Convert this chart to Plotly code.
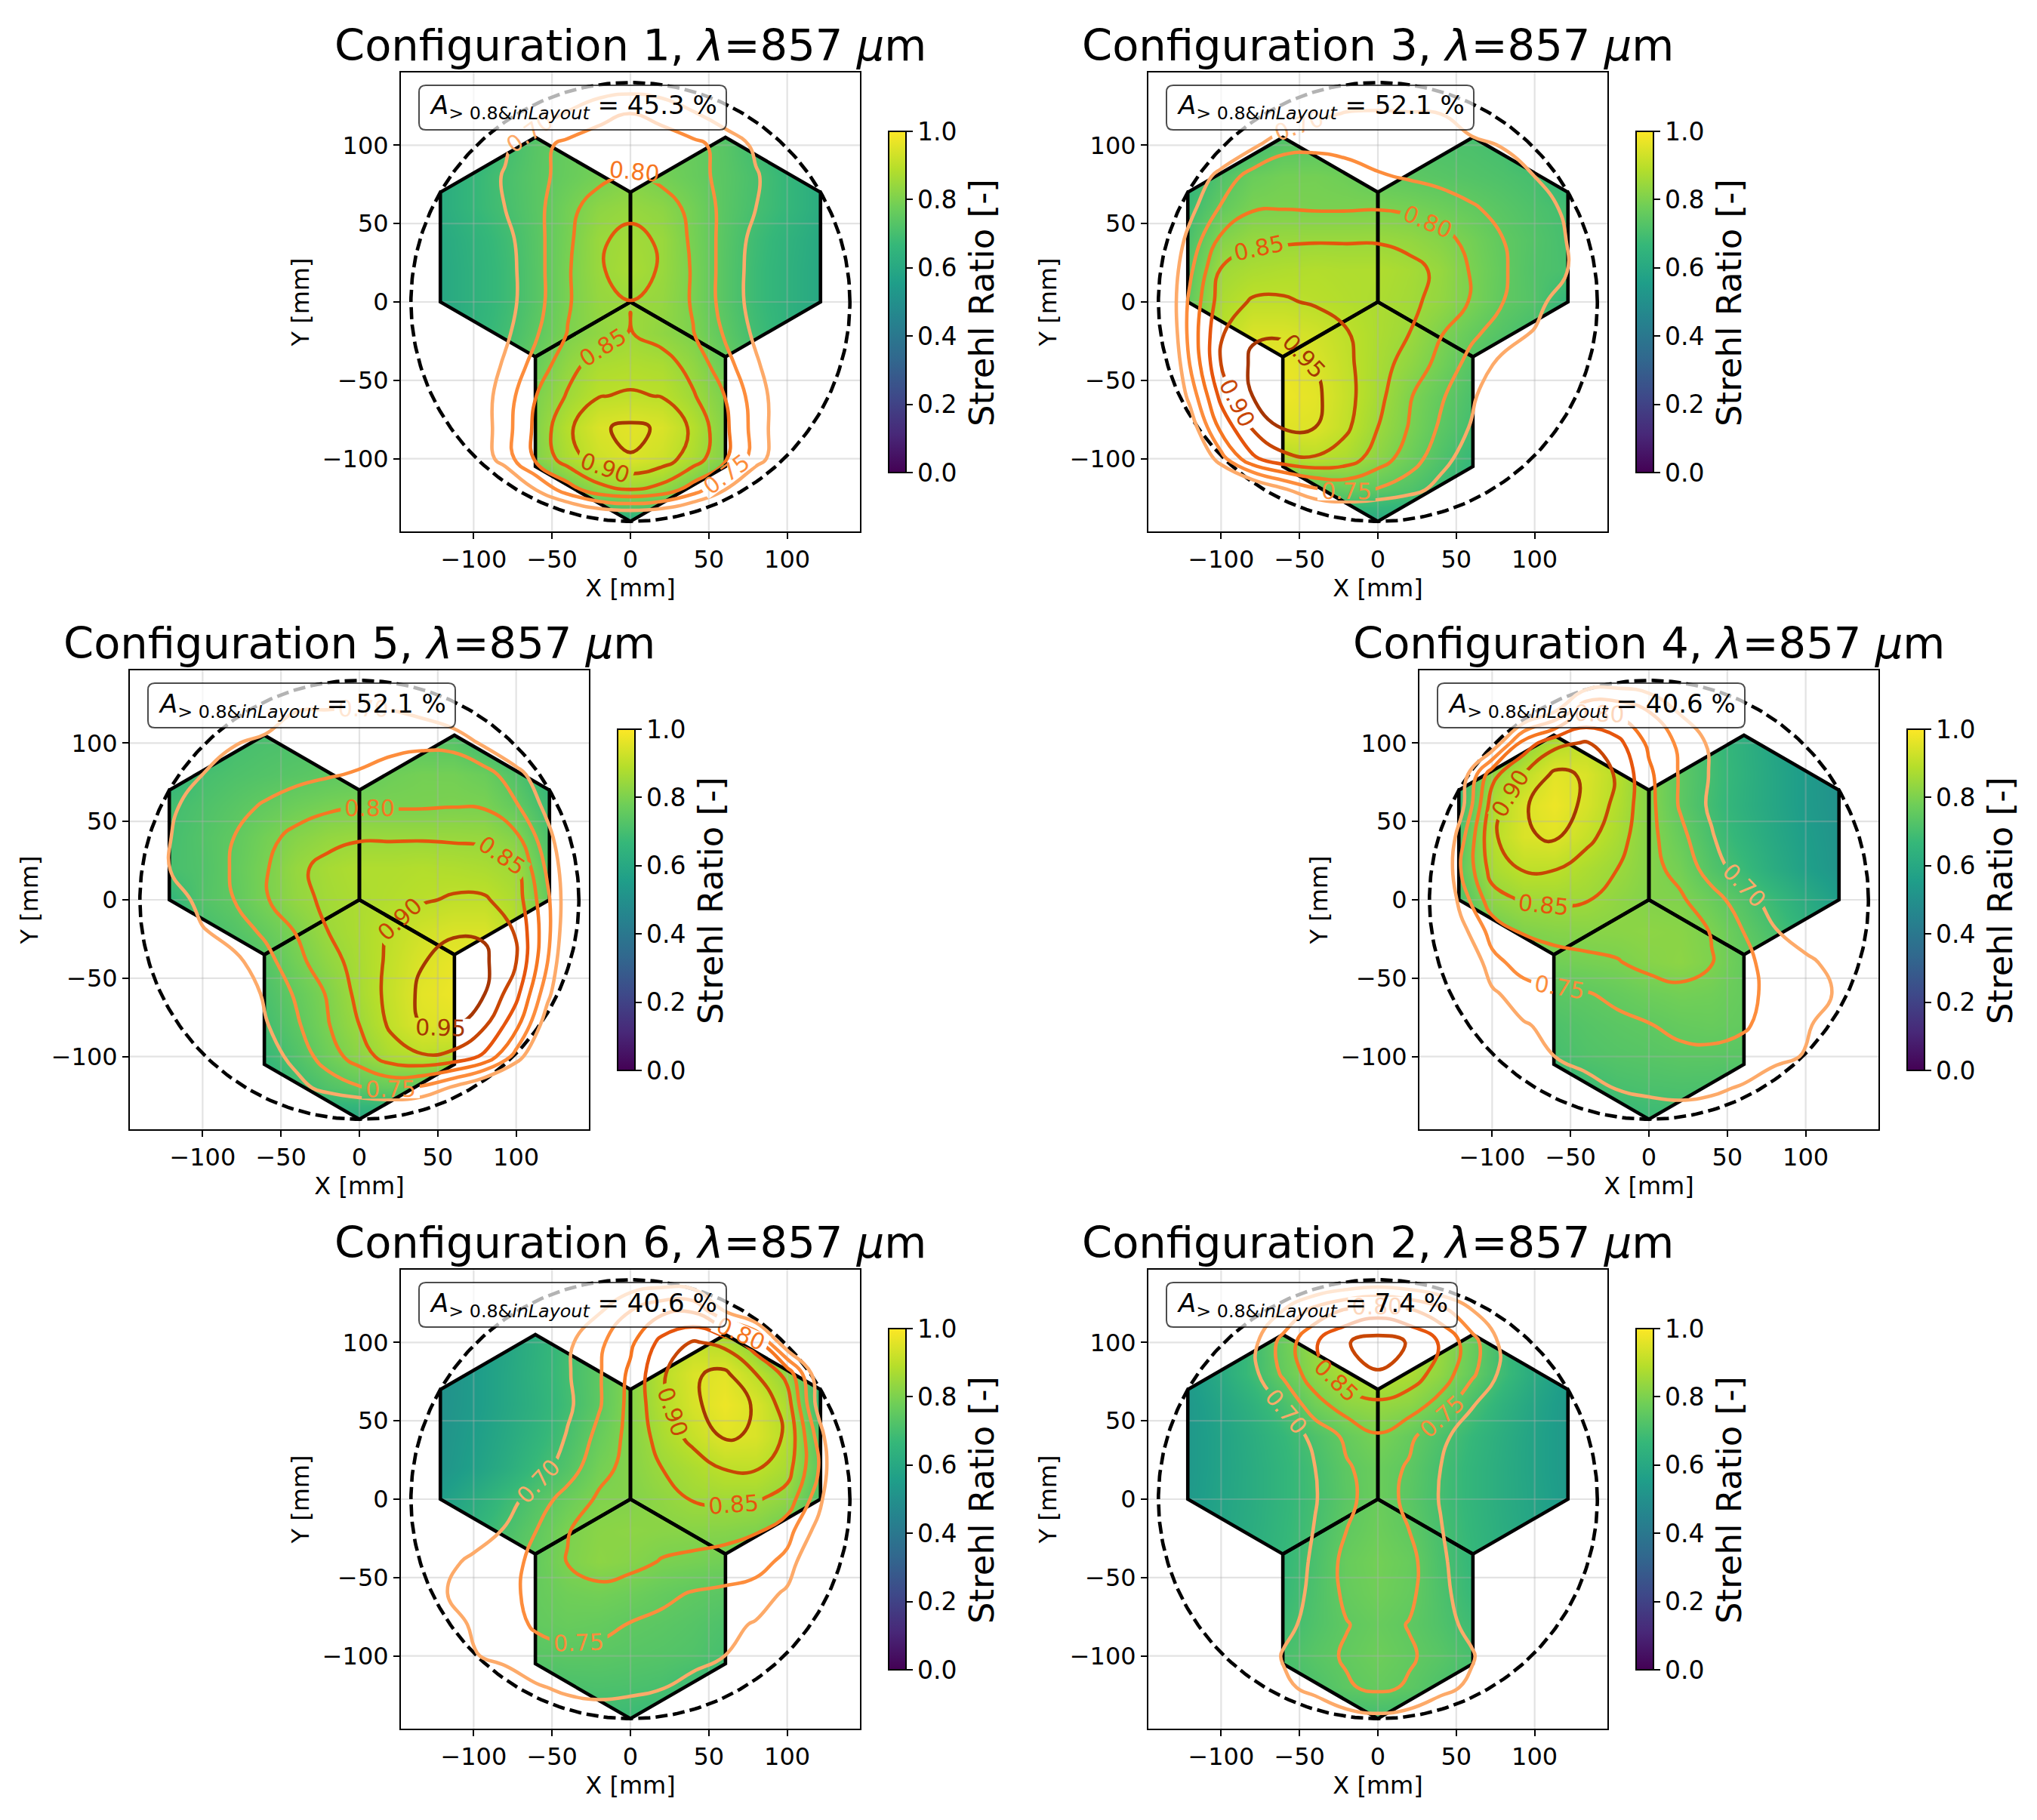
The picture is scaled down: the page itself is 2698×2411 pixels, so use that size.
import numpy as np
import plotly.graph_objects as go

W, H = 2698, 2411
AX = 608                      # axes square, px
FONT = "DejaVu Sans"
X_MM = list(range(-140, 141, 20))
Y_MM = list(range(140, -141, -20))
TICKS = [-100, -50, 0, 50, 100]
CBAR_TICKS = [0, 0.2, 0.4, 0.6, 0.8, 1.0]
LEVEL_COLORS = ["rgb(253,170,105)", "rgb(253,141,60)", "rgb(246,118,33)",
                "rgb(230,85,13)", "rgb(200,70,4)", "rgb(166,54,3)"]

# half rows, x = 0..140, y = 140..-140 (configuration 1 and 2 mirror about x=0)
CONFIG1_HALF = [
 [.67,.665,.65,.62,.59,.55,.50,.46],
 [.752,.735,.705,.67,.63,.58,.53,.48],
 [.78,.775,.762,.735,.69,.64,.59,.54],
 [.81,.7875,.765,.738,.705,.665,.62,.57],
 [.84,.825,.785,.737,.70,.665,.62,.575],
 [.86,.845,.79,.735,.685,.645,.605,.56],
 [.87,.845,.795,.733,.68,.64,.60,.56],
 [.849,.838,.795,.733,.68,.64,.60,.56],
 [.852,.83,.802,.745,.69,.645,.60,.56],
 [.88,.872,.832,.77,.707,.655,.605,.56],
 [.905,.898,.855,.80,.725,.66,.60,.55],
 [.958,.945,.89,.812,.73,.655,.59,.54],
 [.948,.925,.875,.81,.725,.65,.58,.53],
 [.848,.83,.775,.70,.62,.55,.49,.45],
 [.62,.61,.58,.53,.49,.45,.42,.40],
]
CONFIG2_HALF = [
 [.66,.65,.63,.58,.54,.50,.46,.43],
 [.83,.81,.77,.705,.62,.56,.51,.47],
 [.92,.897,.845,.77,.685,.61,.55,.50],
 [.897,.875,.83,.76,.685,.61,.55,.50],
 [.84,.825,.78,.705,.64,.585,.535,.49],
 [.795,.76,.715,.665,.62,.575,.535,.49],
 [.77,.745,.70,.655,.615,.575,.535,.49],
 [.77,.74,.697,.655,.615,.58,.54,.50],
 [.775,.75,.703,.66,.62,.585,.545,.50],
 [.785,.765,.71,.665,.625,.585,.545,.50],
 [.78,.76,.715,.67,.63,.59,.55,.50],
 [.765,.748,.72,.685,.64,.60,.555,.50],
 [.775,.755,.735,.705,.655,.605,.55,.50],
 [.76,.745,.715,.69,.64,.59,.54,.49],
 [.688,.68,.66,.62,.57,.53,.49,.45],
]
# full rows, x = -140..140, y = 140..-140; configuration 5 is its mirror
CONFIG3 = [
 [.40,.44,.49,.54,.60,.635,.655,.66,.655,.64,.61,.57,.53,.49,.45],
 [.45,.50,.56,.61,.66,.69,.703,.705,.703,.70,.675,.64,.59,.54,.49],
 [.50,.58,.64,.69,.735,.738,.73,.725,.72,.715,.71,.698,.65,.60,.54],
 [.59,.655,.72,.77,.785,.787,.777,.755,.745,.735,.725,.715,.70,.65,.59],
 [.60,.685,.755,.795,.798,.795,.795,.797,.79,.775,.755,.735,.715,.695,.62],
 [.63,.715,.81,.84,.843,.845,.845,.845,.835,.815,.785,.75,.725,.70,.62],
 [.63,.74,.855,.873,.88,.885,.88,.88,.865,.84,.795,.755,.72,.705,.62],
 [.62,.76,.875,.905,.905,.895,.885,.875,.86,.835,.795,.75,.725,.66,.58],
 [.60,.765,.895,.945,.945,.93,.903,.875,.85,.803,.76,.725,.695,.62,.55],
 [.58,.75,.90,.958,.968,.948,.91,.87,.83,.785,.73,.685,.63,.57,.52],
 [.58,.715,.865,.95,.975,.96,.915,.865,.805,.757,.71,.645,.59,.54,.50],
 [.55,.665,.815,.905,.955,.95,.908,.85,.797,.743,.695,.63,.575,.525,.48],
 [.50,.60,.73,.84,.885,.895,.875,.825,.775,.72,.67,.61,.56,.51,.47],
 [.47,.52,.57,.63,.69,.74,.76,.745,.72,.68,.63,.575,.53,.49,.45],
 [.42,.46,.50,.54,.57,.60,.60,.60,.59,.57,.54,.50,.47,.44,.41],
]
# full rows; configuration 6 is its mirror
CONFIG4 = [
 [.38,.44,.51,.58,.63,.66,.67,.665,.64,.60,.55,.51,.47,.43,.40],
 [.40,.47,.55,.63,.70,.795,.79,.75,.695,.64,.58,.53,.49,.45,.41],
 [.45,.55,.655,.82,.885,.905,.865,.79,.74,.69,.635,.585,.54,.50,.46],
 [.50,.66,.835,.90,.96,.945,.893,.81,.745,.695,.64,.59,.545,.505,.47],
 [.54,.68,.875,.945,.975,.94,.885,.815,.745,.69,.635,.59,.545,.51,.47],
 [.56,.73,.89,.945,.955,.915,.87,.815,.765,.705,.65,.60,.555,.515,.47],
 [.56,.75,.87,.905,.903,.875,.85,.815,.785,.725,.675,.615,.565,.52,.48],
 [.56,.72,.83,.855,.858,.853,.83,.81,.807,.77,.725,.675,.615,.56,.50],
 [.50,.68,.77,.805,.815,.818,.82,.825,.82,.798,.75,.705,.65,.585,.52],
 [.46,.62,.735,.77,.782,.79,.797,.815,.825,.802,.76,.735,.72,.67,.55],
 [.45,.58,.69,.73,.74,.747,.76,.775,.785,.78,.76,.74,.725,.695,.60],
 [.42,.52,.625,.695,.715,.73,.74,.748,.76,.765,.755,.735,.71,.66,.57],
 [.40,.48,.56,.635,.70,.72,.728,.733,.74,.74,.735,.72,.695,.63,.54],
 [.37,.43,.50,.56,.63,.68,.703,.71,.713,.71,.695,.655,.60,.54,.48],
 [.34,.39,.45,.50,.56,.62,.66,.675,.68,.67,.64,.60,.55,.49,.43],
]

def mirror_half(rows):
    return [r[:0:-1] + r for r in rows]

def mirror_full(rows):
    return [r[::-1] for r in rows]

CONFIG1 = mirror_half(CONFIG1_HALF)
CONFIG2 = mirror_half(CONFIG2_HALF)
CONFIG5 = mirror_full(CONFIG3)
CONFIG6 = mirror_full(CONFIG4)

# name, grid, area percent, left px, top px, box right offset px
PANELS = [
 ("1", CONFIG1, "45.3", 531, 96, 431),
 ("3", CONFIG3, "52.1", 1521, 96, 431),
 ("5", CONFIG5, "52.1", 172, 888, 431),
 ("4", CONFIG4, "40.6", 1880, 888, 431),
 ("6", CONFIG6, "40.6", 531, 1682, 431),
 ("2", CONFIG2, "7.4", 1521, 1682, 409),
]

HEX_X = [[-121.24,-60.62,0,0,-60.62,-121.24,-121.24],
         [121.24,60.62,0,0,60.62,121.24,121.24],
         [0,60.62,60.62,0,-60.62,-60.62,0]]
HEX_Y = [[70,105,70,0,-35,0,70],
         [70,105,70,0,-35,0,70],
         [0,-35,-105,-140,-105,-35,0]]
UNION_X = [-121.24,-60.62,0,60.62,121.24,121.24,60.62,60.62,0,-60.62,-60.62,-121.24,-121.24]
UNION_Y = [70,105,70,105,70,0,-35,-105,-140,-105,-35,0,70]
RANGE = [-146.4, 146.4]

def px(x): return x / W
def py(y): return 1 - y / H

def box_path(x0, y0, x1, y1, r=9):
    a, b, c, d = px(x0), py(y0), px(x1), py(y1)
    rx, ry = r / W, r / H
    return (f"M{a+rx},{b} L{c-rx},{b} Q{c},{b} {c},{b-ry} L{c},{d+ry} Q{c},{d} {c-rx},{d} "
            f"L{a+rx},{d} Q{a},{d} {a},{d+ry} L{a},{b-ry} Q{a},{b} {a+rx},{b} Z")

fig = go.Figure()
layout = dict(width=W, height=H, margin=dict(l=0, r=0, t=0, b=0, autoexpand=False),
              paper_bgcolor="white", plot_bgcolor="white", showlegend=False,
              font=dict(family=FONT, size=32, color="black"))
annotations, shapes = [], []
grid_x, grid_y = [], []
for t in TICKS:
    grid_x += [t, t, None, RANGE[0], RANGE[1], None]
    grid_y += [RANGE[0], RANGE[1], None, t, t, None]

for i, (name, grid, area, left, top, box_r) in enumerate(PANELS):
    n0 = 3 * i + 1
    xs = [f"x{n0 + k}" if n0 + k > 1 else "x" for k in range(3)]
    ys = [f"y{n0 + k}" if n0 + k > 1 else "y" for k in range(3)]
    dx = [px(left), px(left + AX)]
    dy = [py(top + AX), py(top)]
    for k in range(3):
        base = k == 0
        ax_common = dict(range=RANGE, showgrid=False, zeroline=False, fixedrange=True)
        xa = dict(ax_common, domain=dx, anchor=ys[k])
        ya = dict(ax_common, domain=dy, anchor=xs[k])
        if base:
            tickstyle = dict(tickvals=TICKS, ticks="outside", ticklen=8, tickwidth=2, tickcolor="black",
                             tickfont=dict(size=32, family=FONT), showline=True, linecolor="black",
                             linewidth=2, mirror=True)
            xa.update(tickstyle, title=dict(text="X [mm]", font=dict(size=32, family=FONT), standoff=2))
            ya.update(tickstyle, title=dict(text="Y [mm]", font=dict(size=32, family=FONT), standoff=8))
        else:
            xa.update(overlaying=xs[0], showticklabels=False, ticks="", showline=False)
            ya.update(overlaying=ys[0], showticklabels=False, ticks="", showline=False)
        layout["xaxis" + (str(n0 + k) if n0 + k > 1 else "")] = xa
        layout["yaxis" + (str(n0 + k) if n0 + k > 1 else "")] = ya

    z = grid[::-1]
    yy = Y_MM[::-1]
    fig.add_trace(go.Heatmap(
        x=X_MM, y=yy, z=z, zmin=0, zmax=1, colorscale="Viridis", zsmooth="best",
        hoverinfo="skip", xaxis=xs[0], yaxis=ys[0],
        colorbar=dict(x=px(left + 646), xanchor="left", xpad=0, y=py(top + 304), yanchor="middle",
                      ypad=0, lenmode="pixels", len=452, thickness=23, thicknessmode="pixels",
                      outlinewidth=2, outlinecolor="black", ticks="outside", ticklen=8, tickwidth=2,
                      tickcolor="black", tickvals=CBAR_TICKS, tickformat=".1f",
                      tickfont=dict(size=33, family=FONT))))
    # white cover outside the hexagons (outer rectangle wound the other way)
    fig.add_trace(go.Scatter(
        x=[-170, 170, 170, -170, -170, None] + UNION_X,
        y=[-170, -170, 170, 170, -170, None] + UNION_Y,
        mode="none", fill="toself", fillcolor="white", hoverinfo="skip",
        xaxis=xs[0], yaxis=ys[0]))
    # grid, hexagons, aperture circle under the contours
    fig.add_trace(go.Scatter(x=grid_x, y=grid_y, mode="lines", hoverinfo="skip",
                             line=dict(color="rgba(176,176,176,0.35)", width=2.2),
                             xaxis=xs[1], yaxis=ys[1]))
    for hx, hy in zip(HEX_X, HEX_Y):
        fig.add_trace(go.Scatter(x=hx, y=hy, mode="lines", hoverinfo="skip",
                                 line=dict(color="black", width=4.6), xaxis=xs[1], yaxis=ys[1]))
    theta = np.linspace(0, 2 * np.pi, 361)
    fig.add_trace(go.Scatter(x=140 * np.cos(theta), y=140 * np.sin(theta), mode="lines", hoverinfo="skip",
                             line=dict(color="black", width=4.6, dash="16px,7px"),
                             xaxis=xs[1], yaxis=ys[1]))
    fig.add_trace(go.Contour(
        x=X_MM, y=yy, z=z, autocontour=False, hoverinfo="skip", showscale=False,
        contours=dict(start=0.70, end=0.95, size=0.05, coloring="lines", showlabels=True,
                      labelformat=".2f", labelfont=dict(size=30, family=FONT)),
        colorscale=[[j / 5, c] for j, c in enumerate(LEVEL_COLORS)], zmin=0.70, zmax=0.95,
        line=dict(width=4.6, smoothing=1.3), xaxis=xs[2], yaxis=ys[2]))

    annotations.append(dict(
        text=f"Configuration {name}, <i>λ</i>=857 <i>μ</i>m", xref="paper", yref="paper",
        x=px(left + AX / 2), y=py(top), xanchor="center", yanchor="bottom", showarrow=False,
        font=dict(size=57.5, family=FONT)))
    annotations.append(dict(
        text=f"<i>A</i><sub>&gt; 0.8&amp;<i>inLayout</i></sub> = {area} %", xref="paper", yref="paper",
        x=px(left + 36), y=py(top + 46), xanchor="left", yanchor="middle", showarrow=False,
        font=dict(size=34, family=FONT)))
    annotations.append(dict(
        text="Strehl Ratio [-]", xref="paper", yref="paper", textangle=-90,
        x=px(left + 769), y=py(top + 305), xanchor="center", yanchor="middle", showarrow=False,
        font=dict(size=45, family=FONT)))
    shapes.append(dict(type="path", xref="paper", yref="paper", layer="above",
                       path=box_path(left + 24, top + 17, left + box_r, top + 76),
                       fillcolor="rgba(255,255,255,0.7)", line=dict(color="rgba(0,0,0,0.7)", width=2)))

fig.update_layout(**layout, annotations=annotations, shapes=shapes)
fig.write_html("out.html", config=dict(displayModeBar=False),
               post_script="document.body.style.margin='0';document.body.style.overflow='hidden';")
